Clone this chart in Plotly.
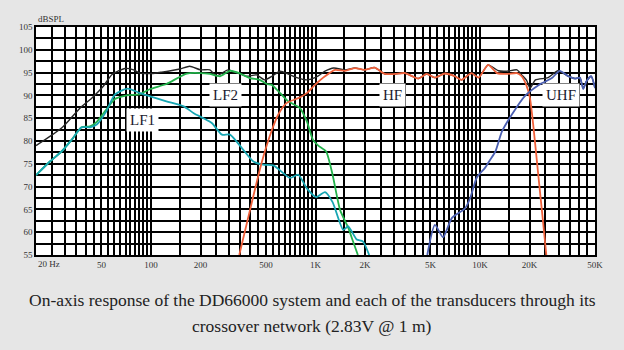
import math
import plotly.graph_objects as go

# ---------------- data ----------------
sys_f = [20, 24.3, 29.3, 37, 43.6, 51.3, 58, 69.5, 78.4, 85.8, 101, 116, 150, 172, 200, 228, 250,
         294, 330, 382, 438, 492, 550, 610, 690, 770, 886, 1010, 1142, 1290, 1512, 1738, 1982,
         2290, 2640, 3040, 3500, 4216, 4740, 5320, 6120, 7040, 7720, 8880, 9800, 11200, 12940,
         14580, 16780, 17920, 19200, 20140, 21740, 25940, 29780, 34440, 37820, 40440, 42400,
         44400, 47400, 50000]
sys_db = [79.0, 81.0, 83.2, 87.2, 89.4, 92.0, 94.6, 95.9, 95.6, 94.9, 94.8, 95.1, 95.8, 96.4, 95.6,
          95.6, 94.3, 95.6, 95.0, 94.2, 94.5, 93.4, 94.3, 95.3, 94.6, 93.9, 93.4, 94.0, 95.3, 96.0,
          95.6, 96.0, 95.6, 96.1, 94.7, 94.7, 94.9, 93.7, 94.7, 93.9, 94.8, 94.2, 93.4, 94.9, 93.9,
          96.7, 95.4, 95.3, 95.6, 94.5, 93.3, 91.6, 93.4, 93.9, 95.4, 94.2, 93.7, 93.9, 91.6, 93.1,
          94.2, 91.6]

lf2_f = [20, 24.3, 28.6, 33, 37.8, 42.6, 46.8, 53.5, 60.4, 71.2, 85.8, 98.8, 124, 165, 199, 228,
         263, 302, 348, 400, 458, 505, 542, 610, 683, 804, 886, 964, 1040, 1160, 1270, 1410, 1580,
         1690, 1810]
lf2_db = [72.5, 75.5, 77.7, 80.3, 83.0, 83.2, 84.2, 86.9, 89.2, 90.0, 90.3, 91.4, 92.5, 94.8, 94.9,
          94.7, 94.2, 95.4, 94.8, 93.8, 93.4, 92.5, 92.3, 90.5, 88.7, 87.2, 84.3, 80.3, 79.0, 77.7,
          72.6, 64.9, 61.0, 58.0, 55.0]

lf1_f = [20, 24.3, 28.6, 33, 37.8, 42.6, 46.8, 53.5, 60.4, 72, 85.8, 98.8, 124, 158, 182, 208, 235,
         270, 302, 356, 419, 481, 557, 700, 786, 886, 1010, 1142, 1270, 1475, 1580, 1780, 1940, 2120]
lf1_db = [72.5, 75.5, 77.7, 80.3, 83.0, 83.0, 83.6, 86.5, 90.2, 91.5, 90.5, 89.8, 88.7, 87.6, 86.1,
          85.0, 83.9, 81.4, 81.4, 78.5, 75.5, 74.8, 74.6, 71.9, 72.6, 69.6, 67.7, 68.8, 66.6, 60.5,
          61.3, 58.4, 58.0, 55.0]

hf_f = [344, 400, 470, 542, 594, 666, 786, 886, 992, 1142, 1314, 1512, 1738, 1982, 2290, 2640, 3040,
        3500, 4216, 4740, 5320, 6120, 7040, 7720, 8880, 9800, 11200, 12680, 14580, 16780, 17920,
        19100, 20100, 21140, 22040, 22980, 23960, 25300]
hf_db = [55.0, 64.9, 75.2, 82.3, 85.8, 88.3, 89.4, 90.5, 92.3, 94.2, 95.6, 95.4, 96.0, 95.6, 96.1,
         94.7, 94.7, 94.9, 93.7, 94.7, 93.9, 94.8, 94.2, 93.4, 94.9, 93.9, 96.7, 94.9, 94.7, 94.9,
         94.2, 92.3, 89.5, 83.0, 76.5, 70.0, 63.6, 55.0]

uhf_f = [4780, 5320, 5960, 6740, 8100, 8720, 9560, 10720, 11480, 12400, 13600, 15620, 18660, 22780,
         27360, 30520, 34440, 37820, 40440, 42400, 44400, 47400, 50000]
uhf_db = [55.0, 61.6, 58.9, 63.1, 65.2, 67.5, 72.0, 74.1, 75.8, 77.7, 82.1, 85.8, 89.8, 92.3, 93.8,
          95.4, 94.2, 93.7, 93.9, 91.4, 93.1, 94.2, 91.6]

# curve labels: text, frequency, dB
labels = [("LF1", 89, 84.6), ("LF2", 282, 90.0), ("HF", 2920, 90.0), ("UHF", 31200, 90.0)]

# tick / grid definitions
x_grid = ([f for f in range(20, 101, 5)] + [f for f in range(150, 1001, 50)] +
          [f for f in range(1500, 10001, 500)] + [f for f in range(15000, 50001, 5000)])
x_labels = {50: "50", 100: "100", 200: "200", 500: "500", 1000: "1K", 2000: "2K",
            5000: "5K", 10000: "10K", 20000: "20K", 50000: "50K"}
y_grid = [55 + 2.5 * i for i in range(21)]

caption1 = "On-axis response of the DD66000 system and each of the transducers through its"
caption2 = "crossover network (2.83V @ 1 m)"

# ---------------- figure ----------------
SERIF = "Liberation Serif, Times New Roman, serif"
fig = go.Figure()

def add(fx, fy, color, width):
    fig.add_trace(go.Scatter(x=fx, y=fy, mode="lines",
                             line=dict(color=color, width=width, shape="spline", smoothing=0.6),
                             showlegend=False, hoverinfo="skip", cliponaxis=True))

add(sys_f, sys_db, "#262626", 1.4)
add(lf2_f, lf2_db, "#23b24b", 1.8)
add(lf1_f, lf1_db, "#17a6b3", 1.8)
add(hf_f, hf_db, "#f0603a", 1.8)
add(uhf_f, uhf_db, "#4b5fb2", 1.8)

fig.update_xaxes(type="log", range=[math.log10(20), math.log10(50000)],
                 tickmode="array", tickvals=x_grid,
                 ticktext=[x_labels.get(v, "") for v in x_grid],
                 showgrid=True, gridcolor="#000000", gridwidth=1.5,
                 showline=True, linecolor="#000000", linewidth=1.6, mirror=True,
                 ticks="", zeroline=False,
                 tickfont=dict(family=SERIF, size=9, color="#333333"))
fig.update_yaxes(range=[55, 105], tickmode="array", tickvals=y_grid,
                 ticktext=[(str(int(v)) if v % 5 == 0 else "") for v in y_grid],
                 showgrid=True, gridcolor="#000000", gridwidth=1.5,
                 showline=True, linecolor="#000000", linewidth=1.6, mirror=True,
                 ticks="", zeroline=False,
                 tickfont=dict(family=SERIF, size=9, color="#333333"))

lab_font = dict(family=SERIF, size=15, color="#1a1a2e")
for txt, fx, fy in labels:
    fig.add_annotation(x=math.log10(fx), y=fy, text=txt, showarrow=False,
                       font=lab_font, bgcolor="white", borderpad=3)

fig.add_annotation(xref="paper", yref="paper", x=0, y=1, xanchor="left", yanchor="bottom",
                   yshift=1, text="dBSPL", showarrow=False,
                   font=dict(family=SERIF, size=9, color="#333333"))
fig.add_annotation(xref="paper", yref="paper", x=0, y=0, xanchor="left", yanchor="top",
                   yshift=-2, text="20 Hz", showarrow=False,
                   font=dict(family=SERIF, size=9, color="#333333"))
fig.add_annotation(xref="paper", yref="paper", x=(312 - 36) / 559, y=(255 - 300) / 228,
                   xanchor="center", yanchor="middle", text=caption1, showarrow=False,
                   font=dict(family=SERIF, size=17.5, color="#222222"))
fig.add_annotation(xref="paper", yref="paper", x=(312 - 36) / 559, y=(255 - 326) / 228,
                   xanchor="center", yanchor="middle", text=caption2, showarrow=False,
                   font=dict(family=SERIF, size=17.5, color="#222222"))

fig.update_layout(width=624, height=350, autosize=False,
                  margin=dict(l=36, r=29, t=27, b=95, pad=0),
                  paper_bgcolor="#e6e6e6", plot_bgcolor="white")

fig.write_html("out.html")
